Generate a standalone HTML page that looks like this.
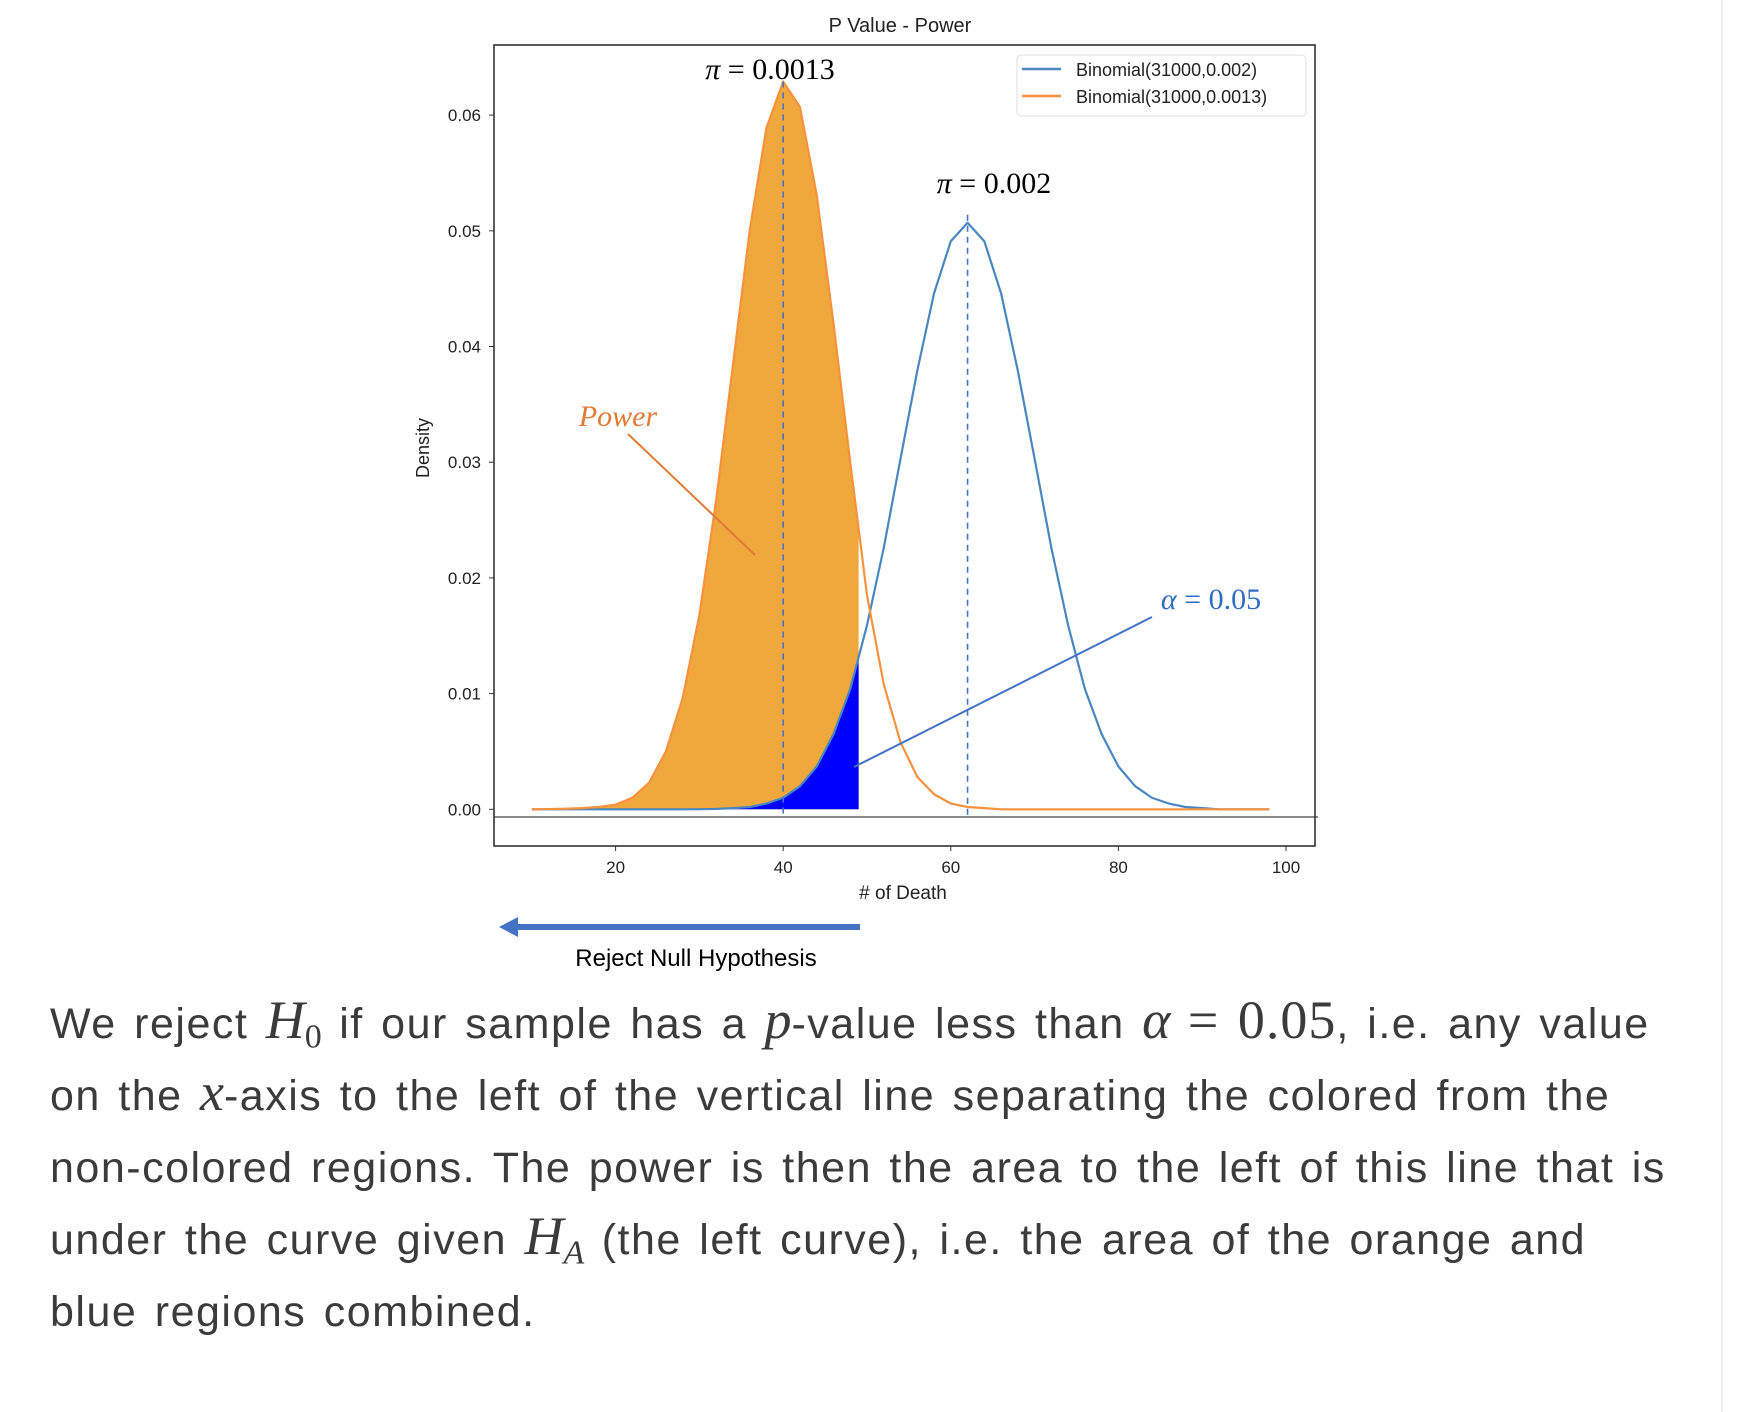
<!DOCTYPE html>
<html><head><meta charset="utf-8"><style>
html,body{margin:0;padding:0;background:#fff;width:1756px;height:1412px;overflow:hidden}
#chart{position:absolute;left:0;top:0}
#body{position:absolute;left:50px;top:988px;width:1700px;font-family:"Liberation Sans",sans-serif;font-size:43px;line-height:72px;letter-spacing:1.5px;word-spacing:4px;color:#3b3b3b;white-space:nowrap}
.m{font-family:"Liberation Serif",serif;font-style:italic;font-size:54px;line-height:0;letter-spacing:0}
.n{font-family:"Liberation Serif",serif;font-size:54px;line-height:0;letter-spacing:1px}
sub{font-family:"Liberation Serif",serif;font-style:normal;font-size:34px;line-height:0;letter-spacing:0}
#rule{position:absolute;left:1721px;top:0;width:2px;height:1412px;background:#efefef}
</style></head><body>
<div id="rule"></div>
<svg id="chart" width="1756" height="1000" font-family="Liberation Sans, sans-serif"></svg>
<div id="body">
We reject <span class="m">H</span><sub>0</sub> if our sample has a <span class="m">p</span>-value less than <span class="m">α</span> <span class="n">= 0.05</span>, i.e. any value<br>
on the <span class="m">x</span>-axis to the left of the vertical line separating the colored from the<br>
non-colored regions. The power is then the area to the left of this line that is<br>
under the curve given <span class="m">H</span><sub><i>A</i></sub> (the left curve), i.e. the area of the orange and<br>
blue regions combined.
</div>
<script>
const kValues=[10,12,14,16,18,20,22,24,26,28,30,32,34,36,38,40,42,44,46,48,50,52,54,56,58,60,62,64,66,68,70,72,74,76,78,80,82,84,86,88,90,92,94,96,98];
const altDensity=[0,0.00002,0.00005,0.0001,0.0002,0.0004,0.001,0.0023,0.005,0.0096,0.0168,0.0267,0.0384,0.05,0.0589,0.0629,0.0607,0.0531,0.042,0.03,0.0185,0.0108,0.0058,0.0028,0.0013,0.0005,0.0002,0.0001,0,0,0,0,0,0,0,0,0,0,0,0,0,0,0,0,0];
const nullDensity=[0,0,0,0,0,0,0,0,0,0,0.00001,0.00003,0.0001,0.0002,0.0005,0.001,0.002,0.0037,0.0065,0.0104,0.0159,0.0226,0.0303,0.0379,0.0446,0.0491,0.0507,0.0491,0.0446,0.0379,0.0303,0.0226,0.0159,0.0104,0.0065,0.0037,0.002,0.001,0.0005,0.0002,0.0001,0,0,0,0];
const xTicks=[20,40,60,80,100];
const yTicks=[0,0.01,0.02,0.03,0.04,0.05,0.06];
const cutoff=49;
const altMean=40;
const nullMean=62;

const svg=document.getElementById('chart');
const NS='http://www.w3.org/2000/svg';
const X=v=>448+8.38*v;
const Y=v=>809.3-11570*v;
function mk(tag,attrs,parent){const e=document.createElementNS(NS,tag);for(const k in attrs)e.setAttribute(k,attrs[k]);(parent||svg).appendChild(e);return e;}
function interp(arr,x){for(let i=0;i<kValues.length-1;i++){if(x>=kValues[i]&&x<=kValues[i+1]){const t=(x-kValues[i])/(kValues[i+1]-kValues[i]);return arr[i]+t*(arr[i+1]-arr[i]);}}return 0;}
function areaPath(arr){let d='M'+X(kValues[0])+','+Y(0);for(let i=0;i<kValues.length&&kValues[i]<cutoff;i++)d+=' L'+X(kValues[i])+','+Y(arr[i]);d+=' L'+X(cutoff)+','+Y(interp(arr,cutoff))+' L'+X(cutoff)+','+Y(0)+' Z';return d;}
function linePath(arr){return kValues.map((k,i)=>(i?'L':'M')+X(k)+','+Y(arr[i])).join(' ');}

let t=mk('text',{x:900,y:32,'text-anchor':'middle','font-size':20,fill:'#222'});t.textContent='P Value - Power';


let e=mk('path',{d:areaPath(altDensity),fill:'#F0A83C'});

e=mk('path',{d:areaPath(nullDensity),fill:'#0000FF'});

e=mk('path',{d:linePath(nullDensity),fill:'none',stroke:'#4a86c0','stroke-width':2.2,'stroke-linejoin':'round'});

e=mk('path',{d:linePath(altDensity),fill:'none',stroke:'#F5923E','stroke-width':2.2,'stroke-linejoin':'round'});


e=mk('line',{x1:X(altMean),x2:X(altMean),y1:Y(0.0629),y2:818,stroke:'#4472c4','stroke-width':1.6,'stroke-dasharray':'6,5'});

e=mk('line',{x1:X(nullMean),x2:X(nullMean),y1:Y(0.0507)-8,y2:818,stroke:'#4472c4','stroke-width':1.6,'stroke-dasharray':'6,5'});


e=mk('line',{x1:494,x2:1318,y1:817,y2:817,stroke:'#444','stroke-width':1.3});

e=mk('rect',{x:494,y:45,width:821,height:801,fill:'none',stroke:'#333','stroke-width':1.6});


yTicks.forEach(v=>{
  const l=mk('line',{x1:489,x2:494,y1:Y(v),y2:Y(v),stroke:'#333'});
  
  const tx=mk('text',{x:481,y:Y(v)+6,'text-anchor':'end','font-size':17,fill:'#222'});tx.textContent=v.toFixed(2);
  
});
xTicks.forEach(v=>{
  const l=mk('line',{x1:X(v),x2:X(v),y1:846,y2:851,stroke:'#333'});
  
  const tx=mk('text',{x:X(v),y:873,'text-anchor':'middle','font-size':17,fill:'#222'});tx.textContent=v;
  
});
t=mk('text',{x:903,y:899,'text-anchor':'middle','font-size':19,fill:'#222'});t.textContent='# of Death';

t=mk('text',{x:429,y:448,'text-anchor':'middle','font-size':18,fill:'#222',transform:'rotate(-90 429 448)'});t.textContent='Density';


const g=mk('g',{});

mk('rect',{x:1017,y:55,width:289,height:61,rx:4,fill:'#fff',stroke:'#ddd'},g);
mk('line',{x1:1022,x2:1061,y1:69,y2:69,stroke:'#4a86c0','stroke-width':2.5},g);
mk('line',{x1:1022,x2:1061,y1:96,y2:96,stroke:'#F5923E','stroke-width':2.5},g);
t=mk('text',{x:1076,y:76,'font-size':18,fill:'#222'},g);t.textContent='Binomial(31000,0.002)';

t=mk('text',{x:1076,y:103,'font-size':18,fill:'#222'},g);t.textContent='Binomial(31000,0.0013)';


t=mk('text',{x:770,y:79,'text-anchor':'middle','font-size':30,'font-family':'Liberation Serif, serif',fill:'#000'});t.innerHTML='<tspan font-style="italic">π</tspan> = 0.0013';

t=mk('text',{x:994,y:193,'text-anchor':'middle','font-size':30,'font-family':'Liberation Serif, serif',fill:'#000'});t.innerHTML='<tspan font-style="italic">π</tspan> = 0.002';

t=mk('text',{x:618,y:426,'text-anchor':'middle','font-size':30,'font-family':'Liberation Serif, serif','font-style':'italic',fill:'#E07A35'});t.textContent='Power';

e=mk('line',{x1:628,y1:434,x2:755,y2:555,stroke:'#E07A35','stroke-width':2});

t=mk('text',{x:1211,y:609,'text-anchor':'middle','font-size':30,'font-family':'Liberation Serif, serif',fill:'#2E6DBF'});t.innerHTML='<tspan font-style="italic">α</tspan> = 0.05';

e=mk('line',{x1:1152,y1:617,x2:854,y2:767,stroke:'#4472c4','stroke-width':2});


e=mk('line',{x1:515,y1:927,x2:860,y2:927,stroke:'#4472c4','stroke-width':6});

e=mk('polygon',{points:'499,927 518,917 518,937',fill:'#4472c4'});

t=mk('text',{x:696,y:966,'text-anchor':'middle','font-size':24,fill:'#000'});t.textContent='Reject Null Hypothesis';

</script>
</body></html>
